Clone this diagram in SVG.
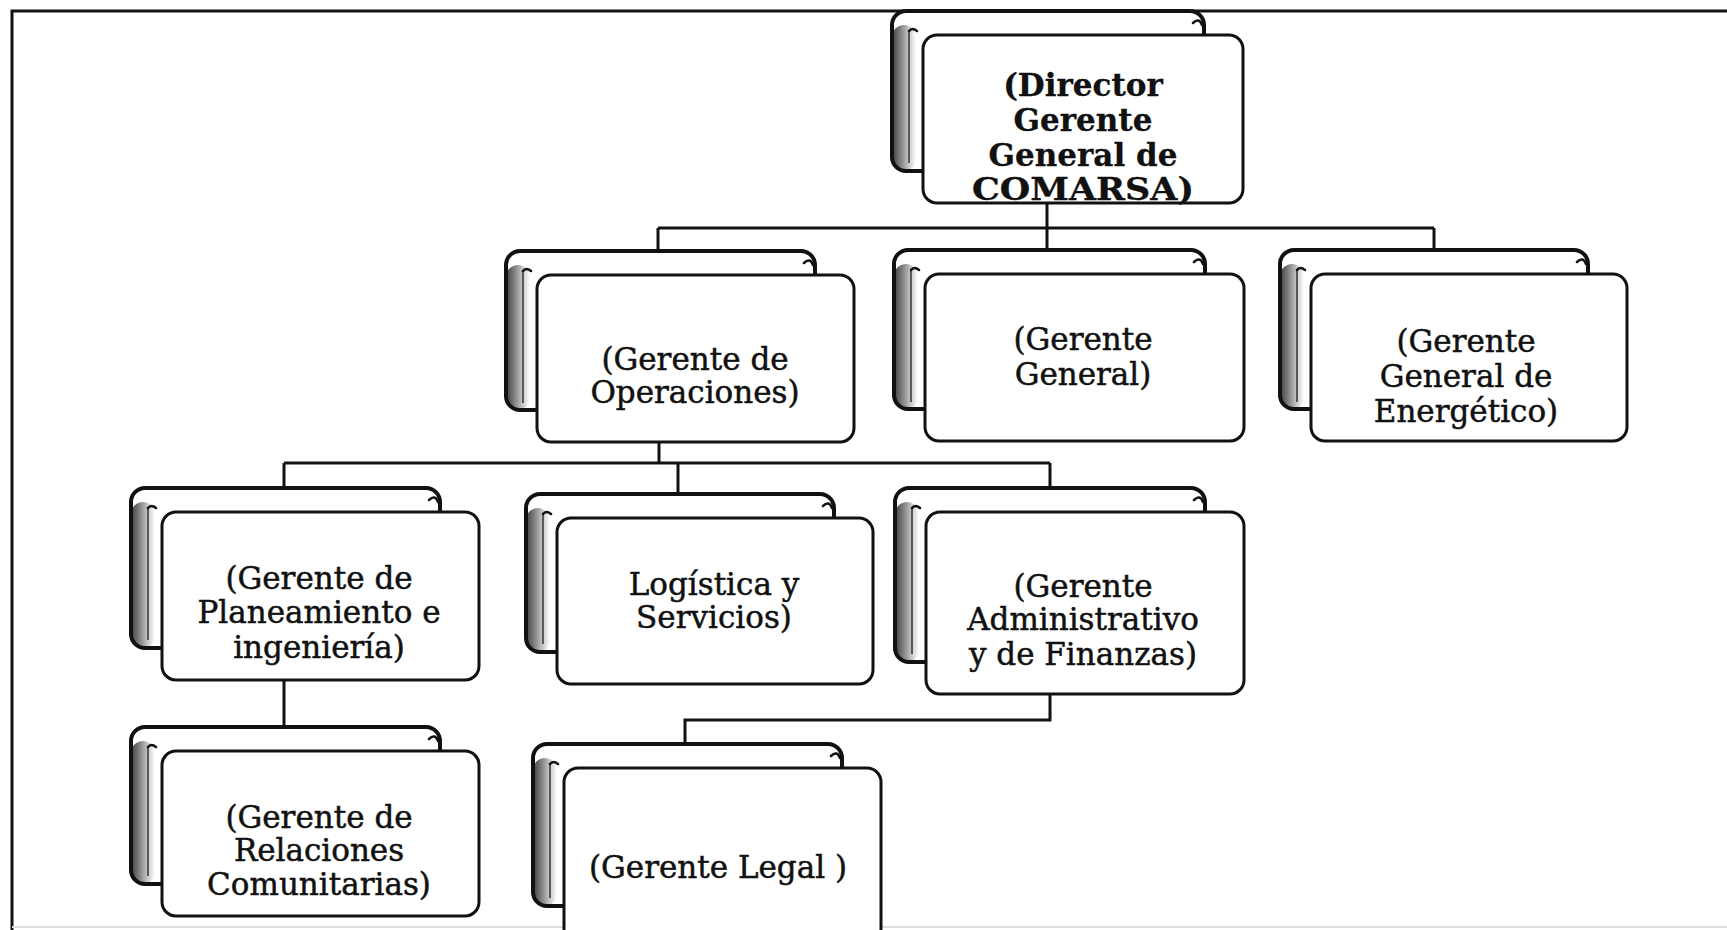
<svg xmlns="http://www.w3.org/2000/svg" width="1727" height="930" viewBox="0 0 1727 930">
<defs>
<linearGradient id="shadeG" x1="0" y1="0" x2="1" y2="0">
<stop offset="0" stop-color="#111"/>
<stop offset="0.3" stop-color="#555"/>
<stop offset="0.7" stop-color="#bbb"/>
<stop offset="1" stop-color="#fff"/>
</linearGradient>
</defs>
<style>
.frame{stroke:#111;stroke-width:3;fill:none}
.back{fill:#fff;stroke:none}
.backs{fill:none;stroke:#111;stroke-width:4}
.shade{fill:url(#shadeG);opacity:.8}
.inner{fill:none;stroke:#333;stroke-width:1.5}
.curl{fill:none;stroke:#111;stroke-width:2.5;stroke-linecap:round}
.front{fill:#fff;stroke:#111;stroke-width:3}
.conn path{fill:none;stroke:#111;stroke-width:3}
text{font-family:"DejaVu Serif","Liberation Serif",serif;font-size:31px;fill:#111;text-anchor:middle;stroke:#111;stroke-width:0.5}
.b{font-weight:bold;stroke-width:0.3}
</style>
<rect x="0" y="0" width="1727" height="930" fill="#fff"/>
<path class="frame" d="M12,930 V11 H1727"/>
<path d="M12,927 H1727" stroke="#ddd" stroke-width="2" fill="none"/>

<g class="conn" id="connectors">
<path d="M1047,204 V228"/>
<path d="M658,228 H1434"/>
<path d="M658,228 V251 M1047,228 V250 M1434,228 V250"/>
<path d="M659,442 V463"/>
<path d="M284,463 H1050"/>
<path d="M284,463 V488 M678,463 V494 M1050,463 V488"/>
<path d="M284,680 V727"/>
<path d="M1050,694 V720 H685 V744"/>
</g>

<g id="n-director" transform="translate(923,35)">
<rect class="back" x="-31" y="-24" width="312" height="160" rx="14"/>
<rect class="shade" x="-31" y="-10" width="24" height="146" rx="12"/>
<rect class="backs" x="-31" y="-24" width="312" height="160" rx="14"/>
<path class="inner" d="M-14,-4 V128"/>
<path class="curl" d="M-14,-4 q3,-4 8,0 M270,-12 q6,-6 9,2"/>
<rect class="front" x="0" y="0" width="320" height="168" rx="14"/>
<text class="b" x="160" y="61">(Director</text>
<text class="b" x="160" y="96">Gerente</text>
<text class="b" x="160" y="131">General de</text>
<text class="b" x="160" y="165" textLength="222" lengthAdjust="spacingAndGlyphs">COMARSA)</text>
</g>

<g id="n-operaciones" transform="translate(537,275)">
<rect class="back" x="-31" y="-24" width="309" height="159" rx="14"/>
<rect class="shade" x="-31" y="-10" width="24" height="145" rx="12"/>
<rect class="backs" x="-31" y="-24" width="309" height="159" rx="14"/>
<path class="inner" d="M-14,-4 V128"/>
<path class="curl" d="M-14,-4 q3,-4 8,0 M267,-12 q6,-6 9,2"/>
<rect class="front" x="0" y="0" width="317" height="167" rx="14"/>
<text x="158" y="95">(Gerente de</text>
<text x="158" y="128">Operaciones)</text>
</g>

<g id="n-general" transform="translate(925,274)">
<rect class="back" x="-31" y="-24" width="311" height="159" rx="14"/>
<rect class="shade" x="-31" y="-10" width="24" height="145" rx="12"/>
<rect class="backs" x="-31" y="-24" width="311" height="159" rx="14"/>
<path class="inner" d="M-14,-4 V128"/>
<path class="curl" d="M-14,-4 q3,-4 8,0 M269,-12 q6,-6 9,2"/>
<rect class="front" x="0" y="0" width="319" height="167" rx="14"/>
<text x="158" y="76">(Gerente</text>
<text x="158" y="111">General)</text>
</g>

<g id="n-energetico" transform="translate(1311,274)">
<rect class="back" x="-31" y="-24" width="308" height="159" rx="14"/>
<rect class="shade" x="-31" y="-10" width="24" height="145" rx="12"/>
<rect class="backs" x="-31" y="-24" width="308" height="159" rx="14"/>
<path class="inner" d="M-14,-4 V128"/>
<path class="curl" d="M-14,-4 q3,-4 8,0 M266,-12 q6,-6 9,2"/>
<rect class="front" x="0" y="0" width="316" height="167" rx="14"/>
<text x="155" y="78">(Gerente</text>
<text x="155" y="113">General de</text>
<text x="155" y="148">Energético)</text>
</g>

<g id="n-planeamiento" transform="translate(162,512)">
<rect class="back" x="-31" y="-24" width="309" height="160" rx="14"/>
<rect class="shade" x="-31" y="-10" width="24" height="146" rx="12"/>
<rect class="backs" x="-31" y="-24" width="309" height="160" rx="14"/>
<path class="inner" d="M-14,-4 V128"/>
<path class="curl" d="M-14,-4 q3,-4 8,0 M267,-12 q6,-6 9,2"/>
<rect class="front" x="0" y="0" width="317" height="168" rx="14"/>
<text x="157" y="77">(Gerente de</text>
<text x="157" y="111">Planeamiento e</text>
<text x="157" y="146">ingeniería)</text>
</g>

<g id="n-logistica" transform="translate(557,518)">
<rect class="back" x="-31" y="-24" width="308" height="158" rx="14"/>
<rect class="shade" x="-31" y="-10" width="24" height="144" rx="12"/>
<rect class="backs" x="-31" y="-24" width="308" height="158" rx="14"/>
<path class="inner" d="M-14,-4 V126"/>
<path class="curl" d="M-14,-4 q3,-4 8,0 M266,-12 q6,-6 9,2"/>
<rect class="front" x="0" y="0" width="316" height="166" rx="14"/>
<text x="157" y="77">Logística y</text>
<text x="157" y="110">Servicios)</text>
</g>

<g id="n-administrativo" transform="translate(926,512)">
<rect class="back" x="-31" y="-24" width="310" height="174" rx="14"/>
<rect class="shade" x="-31" y="-10" width="24" height="160" rx="12"/>
<rect class="backs" x="-31" y="-24" width="310" height="174" rx="14"/>
<path class="inner" d="M-14,-4 V142"/>
<path class="curl" d="M-14,-4 q3,-4 8,0 M268,-12 q6,-6 9,2"/>
<rect class="front" x="0" y="0" width="318" height="182" rx="14"/>
<text x="157" y="85">(Gerente</text>
<text x="157" y="118">Administrativo</text>
<text x="157" y="153">y de Finanzas)</text>
</g>

<g id="n-relaciones" transform="translate(162,751)">
<rect class="back" x="-31" y="-24" width="309" height="157" rx="14"/>
<rect class="shade" x="-31" y="-10" width="24" height="143" rx="12"/>
<rect class="backs" x="-31" y="-24" width="309" height="157" rx="14"/>
<path class="inner" d="M-14,-4 V125"/>
<path class="curl" d="M-14,-4 q3,-4 8,0 M267,-12 q6,-6 9,2"/>
<rect class="front" x="0" y="0" width="317" height="165" rx="14"/>
<text x="157" y="77">(Gerente de</text>
<text x="157" y="110">Relaciones</text>
<text x="157" y="144">Comunitarias)</text>
</g>

<g id="n-legal" transform="translate(564,768)">
<rect class="back" x="-31" y="-24" width="309" height="162" rx="14"/>
<rect class="shade" x="-31" y="-10" width="24" height="148" rx="12"/>
<rect class="backs" x="-31" y="-24" width="309" height="162" rx="14"/>
<path class="inner" d="M-14,-4 V130"/>
<path class="curl" d="M-14,-4 q3,-4 8,0 M267,-12 q6,-6 9,2"/>
<rect class="front" x="0" y="0" width="317" height="175" rx="14"/>
<text x="154" y="110">(Gerente Legal )</text>
</g>
</svg>
